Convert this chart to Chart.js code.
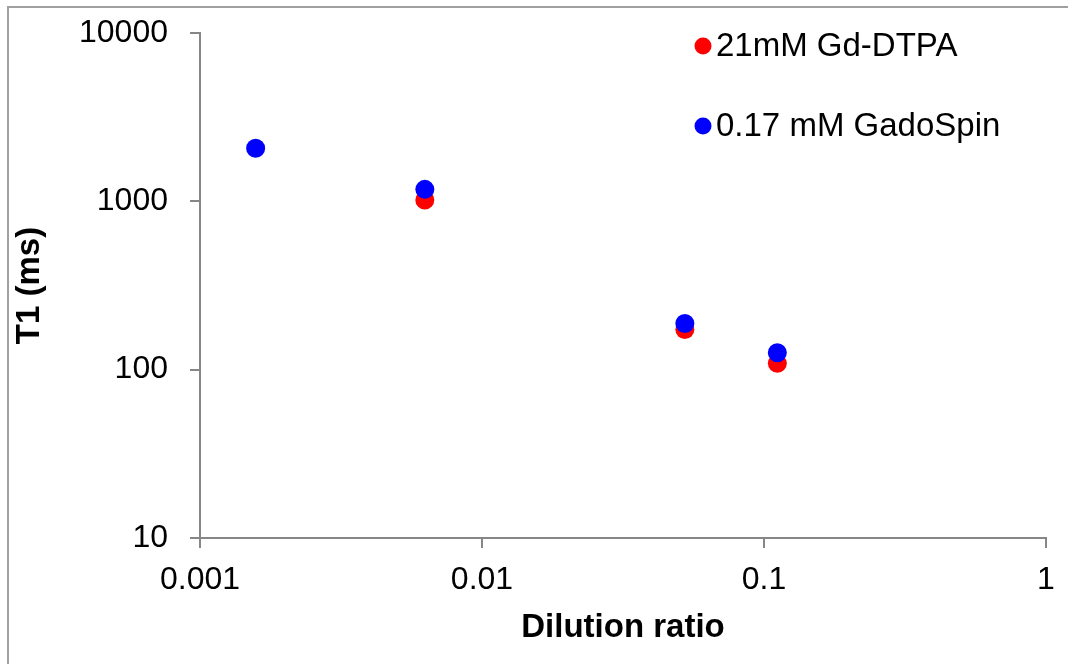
<!DOCTYPE html>
<html>
<head>
<meta charset="utf-8">
<script src="https://cdn.jsdelivr.net/npm/chart.js@4"></script>
<style>
  html, body { margin: 0; padding: 0; background: #fff; }
  #wrap { position: relative; width: 1068px; height: 664px; }
  #frame { position: absolute; left: 7px; top: 6px; right: -10px; bottom: -10px;
           border-left: 2px solid #a0a0a0; border-top: 2px solid #a0a0a0; }
</style>
</head>
<body>
<div id="wrap">
  <div id="frame"></div>
  <canvas id="myChart" width="1068" height="664"></canvas>
</div>
<script>
const seriesNames = ['21mM Gd-DTPA', '0.17 mM GadoSpin'];
const seriesColors = ['#ff0000', '#0000ff'];

// dilution ratio / T1 (ms)
const gdX = [0.00627, 0.0524, 0.1115];
const gdT1 = [1018, 173, 109];
const gadoX = [0.001575, 0.00627, 0.0524, 0.1115];
const gadoT1 = [2065, 1178, 188, 126];

const xTicks = [0.001, 0.01, 0.1, 1];
const yTicks = [10, 100, 1000, 10000];

const toPoints = (xs, ys) => xs.map((x, i) => ({ x: x, y: ys[i] }));

const axisGrey = '#868686';
const font = 'Liberation Sans, Arial, sans-serif';

// legend drawn inside the plot like the original
const insideLegend = {
  id: 'insideLegend',
  afterDraw(chart) {
    const c = chart.ctx;
    c.save();
    c.font = '33px ' + font;
    c.textBaseline = 'middle';
    c.textAlign = 'left';
    chart.data.datasets.forEach((ds, i) => {
      const y = 46 + i * 80;
      c.fillStyle = ds.backgroundColor;
      c.beginPath();
      c.arc(703, y, 8.5, 0, Math.PI * 2);
      c.fill();
      c.fillStyle = '#000';
      c.fillText(ds.label, 716, y + 1);
    });
    c.restore();
  }
};

const ctx = document.getElementById('myChart');

new Chart(ctx, {
  type: 'scatter',
  data: {
    datasets: [{
      label: seriesNames[0],
      data: toPoints(gdX, gdT1),
      backgroundColor: seriesColors[0],
      borderWidth: 0,
      pointRadius: 9.5,
      order: 1
    }, {
      label: seriesNames[1],
      data: toPoints(gadoX, gadoT1),
      backgroundColor: seriesColors[1],
      borderWidth: 0,
      pointRadius: 9.5,
      order: 0
    }]
  },
  options: {
    responsive: false,
    animation: false,
    layout: { padding: { top: 33, right: 22, left: 0, bottom: 0 } },
    plugins: {
      legend: { display: false },
      tooltip: { enabled: false }
    },
    scales: {
      x: {
        type: 'logarithmic',
        min: 0.001,
        max: 1,
        afterBuildTicks: s => { s.ticks = xTicks.map(v => ({ value: v })); },
        afterFit: s => { s.height = 126; s.paddingLeft = 0; s.paddingRight = 0; },
        grid: { drawOnChartArea: false, drawTicks: true, tickLength: 10, color: axisGrey, lineWidth: 2 },
        border: { color: axisGrey, width: 2 },
        ticks: {
          color: '#000',
          font: { family: font, size: 32 },
          padding: 13,
          maxRotation: 0,
          autoSkip: false,
          callback: v => String(v)
        },
        title: {
          display: true,
          text: 'Dilution ratio',
          color: '#000',
          font: { family: font, size: 33, weight: 'bold' },
          padding: { top: 0, bottom: 16 }
        }
      },
      y: {
        type: 'logarithmic',
        min: 10,
        max: 10000,
        afterBuildTicks: s => { s.ticks = yTicks.map(v => ({ value: v })); },
        afterFit: s => { s.width = 200; s.paddingTop = 0; s.paddingBottom = 0; },
        grid: { drawOnChartArea: false, drawTicks: true, tickLength: 10, color: axisGrey, lineWidth: 2 },
        border: { color: axisGrey, width: 2 },
        ticks: {
          color: '#000',
          font: { family: font, size: 32 },
          padding: 22,
          autoSkip: false,
          callback: v => String(v)
        },
        title: {
          display: true,
          text: 'T1 (ms)',
          color: '#000',
          font: { family: font, size: 33, weight: 'bold' },
          padding: { top: 10, bottom: 0 }
        }
      }
    }
  },
  plugins: [insideLegend]
});
</script>
</body>
</html>
